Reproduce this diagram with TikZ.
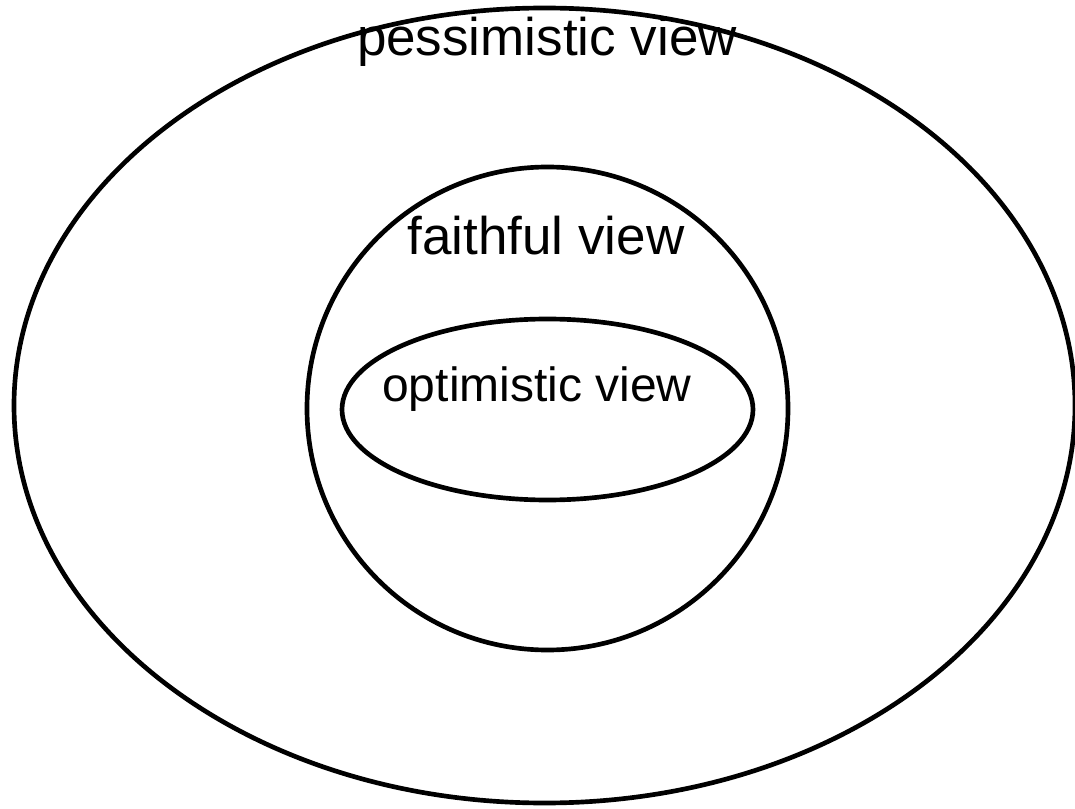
\documentclass[tikz,border=0pt]{standalone}
\usepackage{fontspec}
\setmainfont{Liberation Sans}
\usetikzlibrary{calc}

\begin{document}
\begin{tikzpicture}[x=0.75pt, y=-0.75pt, line width=3.5pt,
    viewlabel/.style={anchor=base, inner sep=0pt, font=\fontsize{39.75}{44}\selectfont},
    smalllabel/.style={viewlabel, font=\fontsize{36}{40}\selectfont}]
                \useasboundingbox (0,0) rectangle (1075,809);
                \coordinate (O) at (544.5,405.5);
                \coordinate (F) at (547.5,408.5);
                \coordinate (I) at (547.5,409.5);
                \draw (O) ellipse [x radius=530.5, y radius=397.5];
                \draw (F) ellipse [x radius=240.5, y radius=241.5];
                \draw (I) ellipse [x radius=205.5, y radius=90.5];
                \node[viewlabel] (pess) at (547,56) {pessimistic view};
                \node[viewlabel] (faith) at (546,255) {faithful view};
                \node[smalllabel] (opt) at (537,402) {optimistic view};
            \end{tikzpicture}
\end{document}
